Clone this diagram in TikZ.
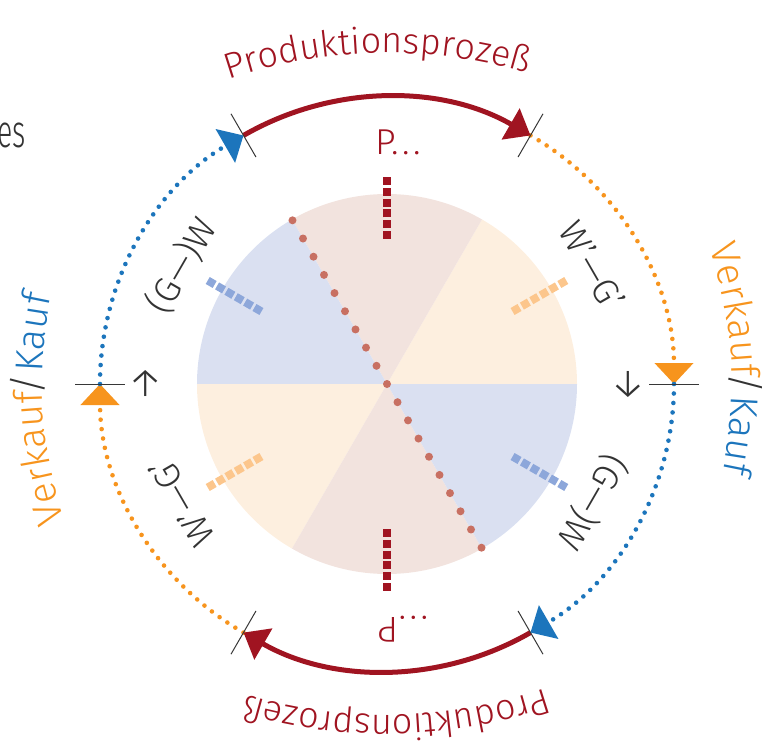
\documentclass[tikz,border=0pt]{standalone}
\usepackage{fontspec}
\setmainfont{Fira Sans Light}
\usetikzlibrary{arrows.meta,decorations.text}
\definecolor{cred}{RGB}{160,20,33}
\definecolor{corange}{RGB}{247,148,29}
\definecolor{cblue}{RGB}{28,117,188}
\definecolor{ccream}{RGB}{253,239,223}
\definecolor{cpink}{RGB}{242,227,222}
\definecolor{clblue}{RGB}{218,224,241}
\definecolor{cdor}{RGB}{252,198,140}
\definecolor{cdbl}{RGB}{141,167,218}
\definecolor{cdot}{RGB}{200,112,98}
\definecolor{ctext}{RGB}{51,51,51}
\definecolor{ctick}{RGB}{55,55,55}
\begin{document}
\begin{tikzpicture}[
  every node/.style={inner sep=0pt, outer sep=0pt},
  tickline/.style={draw=ctick, line width=1pt},
  procarc/.style={draw=cred, line width=5pt, -{Triangle[length=23pt,width=35pt]}},
  dotarc/.style={line width=4.6pt, line cap=round, dash pattern=on 0pt off 9.5pt, -{Triangle[length=21pt,width=38pt]}},
  radbar/.style={line width=8pt, dash pattern=on 8pt off 2.8pt},
  lbl/.style={font=\fontsize{36}{40}\selectfont, text=ctext},
  bigred/.style={font=\fontsize{36}{40}\selectfont, text=cred},
  arrlbl/.style={font=\fontsize{42}{46}\selectfont, text=ctext}
]
\useasboundingbox (-387pt,-371pt) rectangle (375pt,384pt);

% disc sectors
\fill[ccream] (0,0) -- (0:190pt) arc[start angle=0,end angle=60,radius=190pt] -- cycle;
\fill[cpink] (0,0) -- (60:190pt) arc[start angle=60,end angle=120,radius=190pt] -- cycle;
\fill[clblue] (0,0) -- (120:190pt) arc[start angle=120,end angle=180,radius=190pt] -- cycle;
\fill[ccream] (0,0) -- (180:190pt) arc[start angle=180,end angle=240,radius=190pt] -- cycle;
\fill[cpink] (0,0) -- (240:190pt) arc[start angle=240,end angle=300,radius=190pt] -- cycle;
\fill[clblue] (0,0) -- (300:190pt) arc[start angle=300,end angle=360,radius=190pt] -- cycle;

% dotted diameter
\foreach \k in {-9,...,9}{
  \fill[cdot] ({120}:{\k*21pt}) circle[radius=4pt];
}

% radial bars
\foreach \a/\c in {90/cred,270/cred,30/cdor,210/cdor,150/cdbl,330/cdbl}{
  \draw[radbar, draw=\c] (\a:145pt) -- (\a:208pt);
}

% tick coordinates
\foreach \a in {0,60,...,300}{
  \coordinate (t\a) at (\a:287pt);
}

% arcs
\draw[dotarc, corange] (t60) arc[start angle=60,end angle=0,radius=287pt];
\draw[dotarc, cblue] (t0) arc[start angle=0,end angle=-60,radius=287pt];
\draw[dotarc, corange] (t240) arc[start angle=240,end angle=180,radius=287pt];
\draw[dotarc, cblue] (t180) arc[start angle=180,end angle=120,radius=287pt];
\draw[procarc] (t120) arc[start angle=120,end angle=60,radius=287pt];
\draw[procarc] (t300) arc[start angle=300,end angle=240,radius=287pt];

% ticks
\foreach \a in {0,60,...,300}{
  \draw[tickline] (\a:262pt) -- (\a:312pt);
}

% curved labels: Produktionsprozess
\path[decorate, decoration={text along path, text align=center,
  text={|\fontsize{36}{40}\selectfont\color{cred}|Produktionsprozeß}}]
  ([shift={(0pt,-162pt)}]151.1:493pt) arc[start angle=151.1,end angle=31.1,radius=493pt];
\path[decorate, decoration={text along path, text align=center,
  text={|\fontsize{36}{40}\selectfont\color{cred}|Produktionsprozeß}}]
  ([shift={(0pt,162pt)}]-28.9:493pt) arc[start angle=-28.9,end angle=-148.9,radius=493pt];

% Verkauf/Kauf right
\path[decorate, decoration={text along path, text align=right,
  text={|\fontsize{39}{44}\selectfont\color{corange}|Verkauf}}]
  ([shift={(-70pt,0pt)}]40:415pt) arc[start angle=40,end angle=1.0,radius=415pt];
\node[font=\fontsize{39}{44}\selectfont, text=ctext, rotate=-90, anchor=base] (slR) at (345pt,0pt) {/};
\path[decorate, decoration={text along path, text align=left,
  text={|\fontsize{39}{44}\selectfont\color{cblue}|Kauf}}]
  ([shift={(-70pt,0pt)}]-1.6:415pt) arc[start angle=-1.6,end angle=-40,radius=415pt];

% Verkauf/Kauf left
\path[decorate, decoration={text along path, text align=right,
  text={|\fontsize{39}{44}\selectfont\color{corange}|Verkauf}}]
  ([shift={(70pt,0pt)}]220:415pt) arc[start angle=220,end angle=181.0,radius=415pt];
\node[font=\fontsize{39}{44}\selectfont, text=ctext, rotate=90, anchor=base] (slL) at (-345pt,0pt) {/};
\path[decorate, decoration={text along path, text align=left,
  text={|\fontsize{39}{44}\selectfont\color{cblue}|Kauf}}]
  ([shift={(70pt,0pt)}]178.4:415pt) arc[start angle=178.4,end angle=140,radius=415pt];

% inner labels
\node[lbl, rotate=-60] (wgR) at (30:237pt) {W’—G’};
\node[lbl, rotate=60] (gwL) at (150:237pt) {(G—)W};
\node[lbl, rotate=120] (wgL) at (210:237pt) {W’—G’};
\node[lbl, rotate=240] (gwR) at (330:237pt) {(G—)W};

% small arrows
\node[arrlbl, rotate=-90] (arR) at (0:240pt) {→};
\node[arrlbl, rotate=90] (arL) at (180:240pt) {→};

% P labels
\node[bigred, anchor=base west] (ptop) at (-12pt,229pt) {P.\kern3.6pt.\kern3.6pt.};
\node[bigred, rotate=180, anchor=base] (pbot) at (1.5pt,-233pt) {P};
\node[bigred, rotate=180, anchor=base east] (dbot) at (12pt,-232pt) {.\kern3.6pt.\kern3.6pt.};

% cut-off text
\node[font=\fontsize{46}{52}\selectfont, text=ctext, anchor=base east] (es) at (-361pt,236pt) {\scalebox{0.62}[1]{es}};
\end{tikzpicture}
\end{document}
